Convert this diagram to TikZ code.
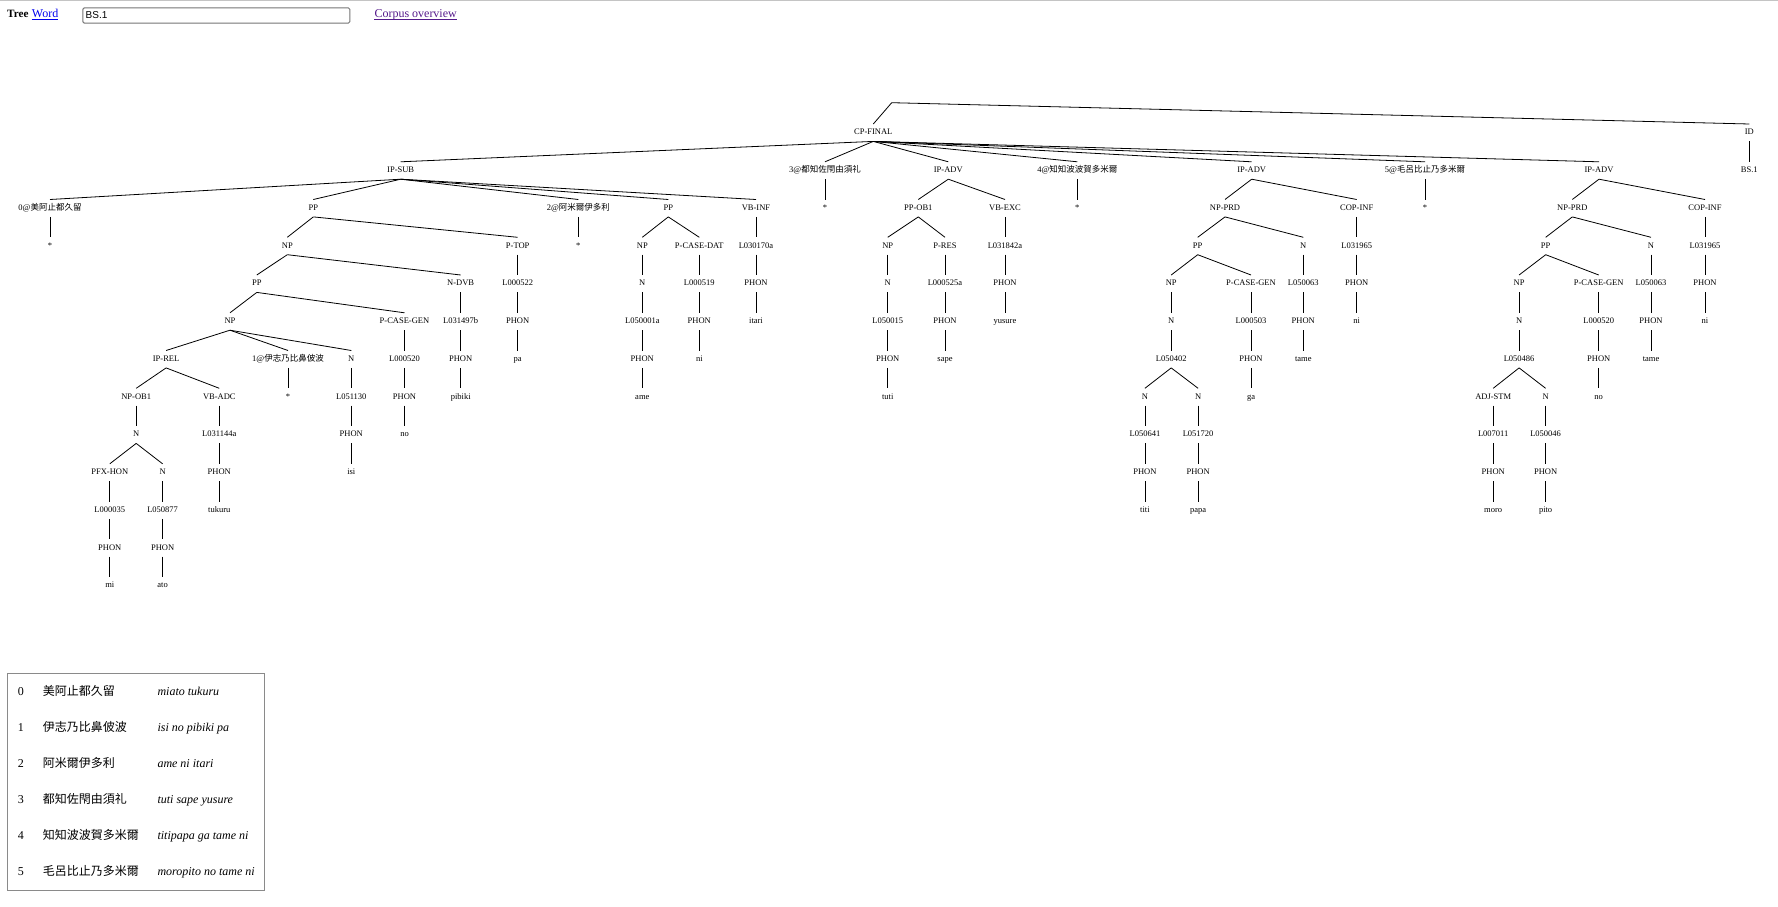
\documentclass[tikz,border=0pt]{standalone}
\usepackage{fontspec}
\setmainfont{Liberation Serif}
\newfontfamily\cjkfont{Noto Sans CJK SC}
\newfontfamily\arialfont{Liberation Sans}
\definecolor{linkblue}{HTML}{0000EE}
\definecolor{linkpurple}{HTML}{551A8B}
\definecolor{boxgray}{HTML}{767676}
\definecolor{legendgray}{HTML}{8A8A8A}
\definecolor{rulegray}{HTML}{C4C4C4}
\begin{document}
\begin{tikzpicture}[x=1pt,y=-1pt,
  tn/.style={font=\fontsize{8.5}{10}\selectfont, inner sep=0pt, minimum height=17pt, text height=6pt, text depth=1.5pt},
  treeline/.style={line width=0.8pt, black},
  hd/.style={font=\fontsize{12}{14}\selectfont, inner sep=0pt, anchor=base west},
  lg/.style={font=\fontsize{12}{14}\selectfont, inner sep=0pt, anchor=base west},
]
\useasboundingbox[fill=white] (0,0) rectangle (1778,907);
% top rule
\draw[rulegray, line width=1.3pt] (0,0.6) -- (1778,0.6);
% header
\node[hd, font=\fontsize{11.2}{14}\selectfont\bfseries] (hdtree) at (7,18) {Tree};
\node[hd, text=linkblue] (hdword) at (31.7,18) {Word};
\draw[linkblue, line width=0.8pt] ([yshift=-1.4pt]hdword.base west) -- ([yshift=-1.4pt]hdword.base east);
\node[draw=boxgray, line width=1pt, rounded corners=1.5pt, minimum width=267pt, minimum height=15.4pt, inner sep=0pt, anchor=north west] (hdbox) at (82.3,7.3) {};
\node[inner sep=0pt, anchor=base west, font=\arialfont\fontsize{10}{12}\selectfont] (hdid) at (85.5,19) {BS.1};
\node[hd, text=linkpurple] (hdcorpus) at (374.3,18) {Corpus overview};
\draw[linkpurple, line width=0.8pt] ([yshift=-1.4pt]hdcorpus.base west) -- ([yshift=-1.4pt]hdcorpus.base east);

% ---------------- tree nodes ----------------
\coordinate (root) at (891.7,102.7);
% level 0
\node[tn] (cp) at (873.3,132.7) {CP-FINAL};
\node[tn] (id) at (1749.3,132.7) {ID};
% level 1
\node[tn] (ipsub) at (400.7,170.5) {IP-SUB};
\node[tn] (z3) at (825,170.5) {3@{\cjkfont 都知佐閇由須礼}};
\node[tn] (ipadvA) at (948.3,170.5) {IP-ADV};
\node[tn] (z4) at (1077.3,170.5) {4@{\cjkfont 知知波波賀多米爾}};
\node[tn] (ipadvB) at (1251.7,170.5) {IP-ADV};
\node[tn] (z5) at (1425,170.5) {5@{\cjkfont 毛呂比止乃多米爾}};
\node[tn] (ipadvC) at (1599,170.5) {IP-ADV};
\node[tn] (bs) at (1749.3,170.5) {BS.1};
% level 2
\node[tn] (z0) at (50,208.2) {0@{\cjkfont 美阿止都久留}};
\node[tn] (ppA) at (313.3,208.2) {PP};
\node[tn] (z2) at (578.3,208.2) {2@{\cjkfont 阿米爾伊多利}};
\node[tn] (ppB) at (668.3,208.2) {PP};
\node[tn] (vbinf) at (756,208.2) {VB-INF};
\node[tn] (s3) at (825,208.2) {*};
\node[tn] (ppob) at (918.3,208.2) {PP-OB1};
\node[tn] (vbexc) at (1005,208.2) {VB-EXC};
\node[tn] (s4) at (1077.3,208.2) {*};
\node[tn] (nprdB) at (1225,208.2) {NP-PRD};
\node[tn] (copB) at (1356.7,208.2) {COP-INF};
\node[tn] (s5) at (1425,208.2) {*};
\node[tn] (nprdC) at (1572.3,208.2) {NP-PRD};
\node[tn] (copC) at (1705,208.2) {COP-INF};
% level 3
\node[tn] (s0) at (50,246) {*};
\node[tn] (npA) at (287.3,246) {NP};
\node[tn] (ptop) at (517.7,246) {P-TOP};
\node[tn] (s2) at (578.3,246) {*};
\node[tn] (npB) at (642.3,246) {NP};
\node[tn] (pcdat) at (699.3,246) {P-CASE-DAT};
\node[tn] (lBa) at (756,246) {L030170a};
\node[tn] (npC) at (887.7,246) {NP};
\node[tn] (pres) at (945,246) {P-RES};
\node[tn] (lCa) at (1005,246) {L031842a};
\node[tn] (ppBB) at (1197.7,246) {PP};
\node[tn] (nBB) at (1303.3,246) {N};
\node[tn] (lBc) at (1356.7,246) {L031965};
\node[tn] (ppCC) at (1545.7,246) {PP};
\node[tn] (nCC) at (1651,246) {N};
\node[tn] (lCc) at (1705,246) {L031965};
% level 4
\node[tn] (ppAb) at (256.8,283.7) {PP};
\node[tn] (ndvb) at (460.7,283.7) {N-DVB};
\node[tn] (lfz) at (517.7,283.7) {L000522};
\node[tn] (nB) at (642.3,283.7) {N};
\node[tn] (lnt) at (699.3,283.7) {L000519};
\node[tn] (phBa) at (756,283.7) {PHON};
\node[tn] (nC) at (887.7,283.7) {N};
\node[tn] (lft) at (945,283.7) {L000525a};
\node[tn] (phCa) at (1005,283.7) {PHON};
\node[tn] (npBB) at (1171.2,283.7) {NP};
\node[tn] (pcgB) at (1251,283.7) {P-CASE-GEN};
\node[tn] (ltmB) at (1303.3,283.7) {L050063};
\node[tn] (phBc) at (1356.7,283.7) {PHON};
\node[tn] (npCC) at (1519.1,283.7) {NP};
\node[tn] (pcgC) at (1598.7,283.7) {P-CASE-GEN};
\node[tn] (ltmC) at (1651,283.7) {L050063};
\node[tn] (phCc) at (1705,283.7) {PHON};
% level 5
\node[tn] (npAc) at (230,321.5) {NP};
\node[tn] (pcgA) at (404.5,321.5) {P-CASE-GEN};
\node[tn] (lpb) at (460.7,321.5) {L031497b};
\node[tn] (phfz) at (517.7,321.5) {PHON};
\node[tn] (lame) at (642.3,321.5) {L050001a};
\node[tn] (phnt) at (699.3,321.5) {PHON};
\node[tn] (itari) at (756,321.5) {itari};
\node[tn] (ltuti) at (887.7,321.5) {L050015};
\node[tn] (phft) at (945,321.5) {PHON};
\node[tn] (yusure) at (1005,321.5) {yusure};
\node[tn] (nBBb) at (1171.2,321.5) {N};
\node[tn] (lga) at (1251,321.5) {L000503};
\node[tn] (phtmB) at (1303.3,321.5) {PHON};
\node[tn] (niB) at (1356.7,321.5) {ni};
\node[tn] (nCCb) at (1519.1,321.5) {N};
\node[tn] (lnoC) at (1598.7,321.5) {L000520};
\node[tn] (phtmC) at (1651,321.5) {PHON};
\node[tn] (niC) at (1705,321.5) {ni};
% level 6
\node[tn] (iprel) at (166.1,359.2) {IP-REL};
\node[tn] (z1) at (288,359.2) {1@{\cjkfont 伊志乃比鼻佊波}};
\node[tn] (nAs) at (351.3,359.2) {N};
\node[tn] (lnoA) at (404.5,359.2) {L000520};
\node[tn] (phpb) at (460.7,359.2) {PHON};
\node[tn] (pa) at (517.7,359.2) {pa};
\node[tn] (phame) at (642.3,359.2) {PHON};
\node[tn] (nint) at (699.3,359.2) {ni};
\node[tn] (phtuti) at (887.7,359.2) {PHON};
\node[tn] (sape) at (945,359.2) {sape};
\node[tn] (ltp) at (1171.2,359.2) {L050402};
\node[tn] (phga) at (1251,359.2) {PHON};
\node[tn] (tameB) at (1303.3,359.2) {tame};
\node[tn] (lmp) at (1519.1,359.2) {L050486};
\node[tn] (phnoC) at (1598.7,359.2) {PHON};
\node[tn] (tameC) at (1651,359.2) {tame};
% level 7
\node[tn] (npob) at (136.2,397) {NP-OB1};
\node[tn] (vbadc) at (219.3,397) {VB-ADC};
\node[tn] (s1) at (288,397) {*};
\node[tn] (lisi) at (351.3,397) {L051130};
\node[tn] (phnoA) at (404.5,397) {PHON};
\node[tn] (pibiki) at (460.7,397) {pibiki};
\node[tn] (ame) at (642.3,397) {ame};
\node[tn] (tuti) at (887.7,397) {tuti};
\node[tn] (nBx) at (1144.9,397) {N};
\node[tn] (nBy) at (1198.1,397) {N};
\node[tn] (ga) at (1251,397) {ga};
\node[tn] (adj) at (1493.2,397) {ADJ-STM};
\node[tn] (nCy) at (1545.6,397) {N};
\node[tn] (noC) at (1598.7,397) {no};
% level 8
\node[tn] (nAe) at (136.2,434.7) {N};
\node[tn] (ltk) at (219.3,434.7) {L031144a};
\node[tn] (phisi) at (351.3,434.7) {PHON};
\node[tn] (noA) at (404.5,434.7) {no};
\node[tn] (ltiti) at (1144.9,434.7) {L050641};
\node[tn] (lpapa) at (1198.1,434.7) {L051720};
\node[tn] (lmoro) at (1493.2,434.7) {L007011};
\node[tn] (lpito) at (1545.6,434.7) {L050046};
% level 9
\node[tn] (pfx) at (109.8,472.5) {PFX-HON};
\node[tn] (nAn) at (162.6,472.5) {N};
\node[tn] (phtk) at (219.3,472.5) {PHON};
\node[tn] (isi) at (351.3,472.5) {isi};
\node[tn] (phtiti) at (1144.9,472.5) {PHON};
\node[tn] (phpapa) at (1198.1,472.5) {PHON};
\node[tn] (phmoro) at (1493.2,472.5) {PHON};
\node[tn] (phpito) at (1545.6,472.5) {PHON};
% level 10
\node[tn] (lmi) at (109.8,510.2) {L000035};
\node[tn] (lato) at (162.6,510.2) {L050877};
\node[tn] (tukuru) at (219.3,510.2) {tukuru};
\node[tn] (titi) at (1144.9,510.2) {titi};
\node[tn] (papa) at (1198.1,510.2) {papa};
\node[tn] (moro) at (1493.2,510.2) {moro};
\node[tn] (pito) at (1545.6,510.2) {pito};
% level 11
\node[tn] (phmi) at (109.8,548) {PHON};
\node[tn] (phato) at (162.6,548) {PHON};
% level 12
\node[tn] (mi) at (109.8,585.7) {mi};
\node[tn] (ato) at (162.6,585.7) {ato};

% ---------------- connectors ----------------
\draw[treeline] (root) -- (cp.north);
\draw[treeline] (root) -- (id.north);
\foreach \a/\b in {
  cp/ipsub, cp/z3, cp/ipadvA, cp/z4, cp/ipadvB, cp/z5, cp/ipadvC, id/bs,
  ipsub/z0, ipsub/ppA, ipsub/z2, ipsub/ppB, ipsub/vbinf,
  z3/s3, ipadvA/ppob, ipadvA/vbexc, z4/s4, ipadvB/nprdB, ipadvB/copB,
  z5/s5, ipadvC/nprdC, ipadvC/copC,
  z0/s0, ppA/npA, ppA/ptop, z2/s2, ppB/npB, ppB/pcdat, vbinf/lBa,
  ppob/npC, ppob/pres, vbexc/lCa, nprdB/ppBB, nprdB/nBB, copB/lBc,
  nprdC/ppCC, nprdC/nCC, copC/lCc,
  npA/ppAb, npA/ndvb, ptop/lfz, npB/nB, pcdat/lnt, lBa/phBa,
  npC/nC, pres/lft, lCa/phCa, ppBB/npBB, ppBB/pcgB, nBB/ltmB, lBc/phBc,
  ppCC/npCC, ppCC/pcgC, nCC/ltmC, lCc/phCc,
  ppAb/npAc, ppAb/pcgA, ndvb/lpb, lfz/phfz, nB/lame, lnt/phnt, phBa/itari,
  nC/ltuti, lft/phft, phCa/yusure, npBB/nBBb, pcgB/lga, ltmB/phtmB, phBc/niB,
  npCC/nCCb, pcgC/lnoC, ltmC/phtmC, phCc/niC,
  npAc/iprel, npAc/z1, npAc/nAs, pcgA/lnoA, lpb/phpb, phfz/pa,
  lame/phame, phnt/nint, ltuti/phtuti, phft/sape,
  nBBb/ltp, lga/phga, phtmB/tameB, nCCb/lmp, lnoC/phnoC, phtmC/tameC,
  iprel/npob, iprel/vbadc, z1/s1, nAs/lisi, lnoA/phnoA, phpb/pibiki,
  phame/ame, phtuti/tuti, ltp/nBx, ltp/nBy, phga/ga, lmp/adj, lmp/nCy, phnoC/noC,
  npob/nAe, vbadc/ltk, lisi/phisi, phnoA/noA,
  nBx/ltiti, nBy/lpapa, adj/lmoro, nCy/lpito,
  nAe/pfx, nAe/nAn, ltk/phtk, phisi/isi,
  ltiti/phtiti, lpapa/phpapa, lmoro/phmoro, lpito/phpito,
  pfx/lmi, nAn/lato, phtk/tukuru,
  phtiti/titi, phpapa/papa, phmoro/moro, phpito/pito,
  lmi/phmi, lato/phato, phmi/mi, phato/ato}
  \draw[treeline] (\a.south) -- (\b.north);

% ---------------- legend ----------------
\node[draw=legendgray, line width=1pt, inner sep=0pt, minimum width=257.6pt, minimum height=217.3pt, anchor=north west] (legend) at (6.7,672.7) {};
\foreach \i/\yy/\zh/\rom in {
  0/695.7/美阿止都久留/miato tukuru,
  1/731.7/伊志乃比鼻佊波/isi no pibiki pa,
  2/767.3/阿米爾伊多利/ame ni itari,
  3/803.3/都知佐閇由須礼/tuti sape yusure,
  4/839/知知波波賀多米爾/titipapa ga tame ni,
  5/875/毛呂比止乃多米爾/moropito no tame ni} {
  \node[lg] (lgn\i) at (17.7,\yy) {\i};
  \node[lg, font=\cjkfont\fontsize{12}{14}\selectfont] (lgz\i) at (42.7,\yy) {\zh};
  \node[lg, font=\itshape\fontsize{12}{14}\selectfont] (lgr\i) at (157.3,\yy) {\rom};
}
\end{tikzpicture}
\end{document}
